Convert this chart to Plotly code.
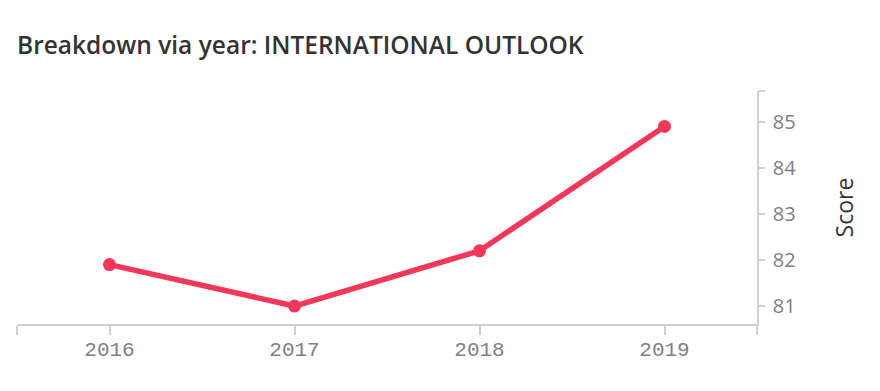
import plotly.graph_objects as go

years = [2016, 2017, 2018, 2019]
scores = [81.9, 81.0, 82.2, 84.9]
y_ticks = [81, 82, 83, 84, 85]

x_range = [2015.5, 2019.5]
y_range = [80.61, 85.67]

fig = go.Figure()
fig.add_trace(go.Scatter(
    x=years, y=scores, mode="lines+markers",
    line=dict(color="#f2385a", width=5.5),
    marker=dict(color="#f2385a", size=13),
    hoverinfo="skip", showlegend=False,
))

fig.update_layout(
    width=880, height=391,
    margin=dict(l=9, r=131, t=83, b=75),
    paper_bgcolor="white", plot_bgcolor="white",
    title=dict(text="Breakdown via year: INTERNATIONAL OUTLOOK",
               x=0, xref="paper", xanchor="left", y=0.905, yanchor="middle",
               font=dict(family="Open Sans", size=24.5, weight=600, color="#333333")),
    xaxis=dict(range=x_range, showgrid=False, zeroline=False,
               showline=True, linecolor="#d0d0d0", linewidth=1.5,
               tickmode="array",
               tickvals=[x_range[0]] + years + [x_range[1]],
               ticktext=[""] + [str(y) for y in years] + [""],
               ticks="outside", ticklen=9, tickcolor="#d0d0d0", tickwidth=1.5,
               ticklabelstandoff=-4,
               tickfont=dict(family="Liberation Mono", size=21, color="#808080")),
    yaxis=dict(range=y_range, side="right", showgrid=False, zeroline=False,
               showline=True, linecolor="#d0d0d0", linewidth=1.5,
               tickmode="array",
               tickvals=y_ticks + [y_range[1]],
               ticktext=[str(t) for t in y_ticks] + [""],
               ticks="outside", ticklen=6, tickcolor="#d0d0d0", tickwidth=1.5,
               ticklabelstandoff=4,
               tickfont=dict(family="Open Sans", size=20, color="#808080"),
               title=dict(text="Score", standoff=42,
                          font=dict(family="Open Sans", size=23, color="#333333"))),
)

fig.write_html("out.html")
